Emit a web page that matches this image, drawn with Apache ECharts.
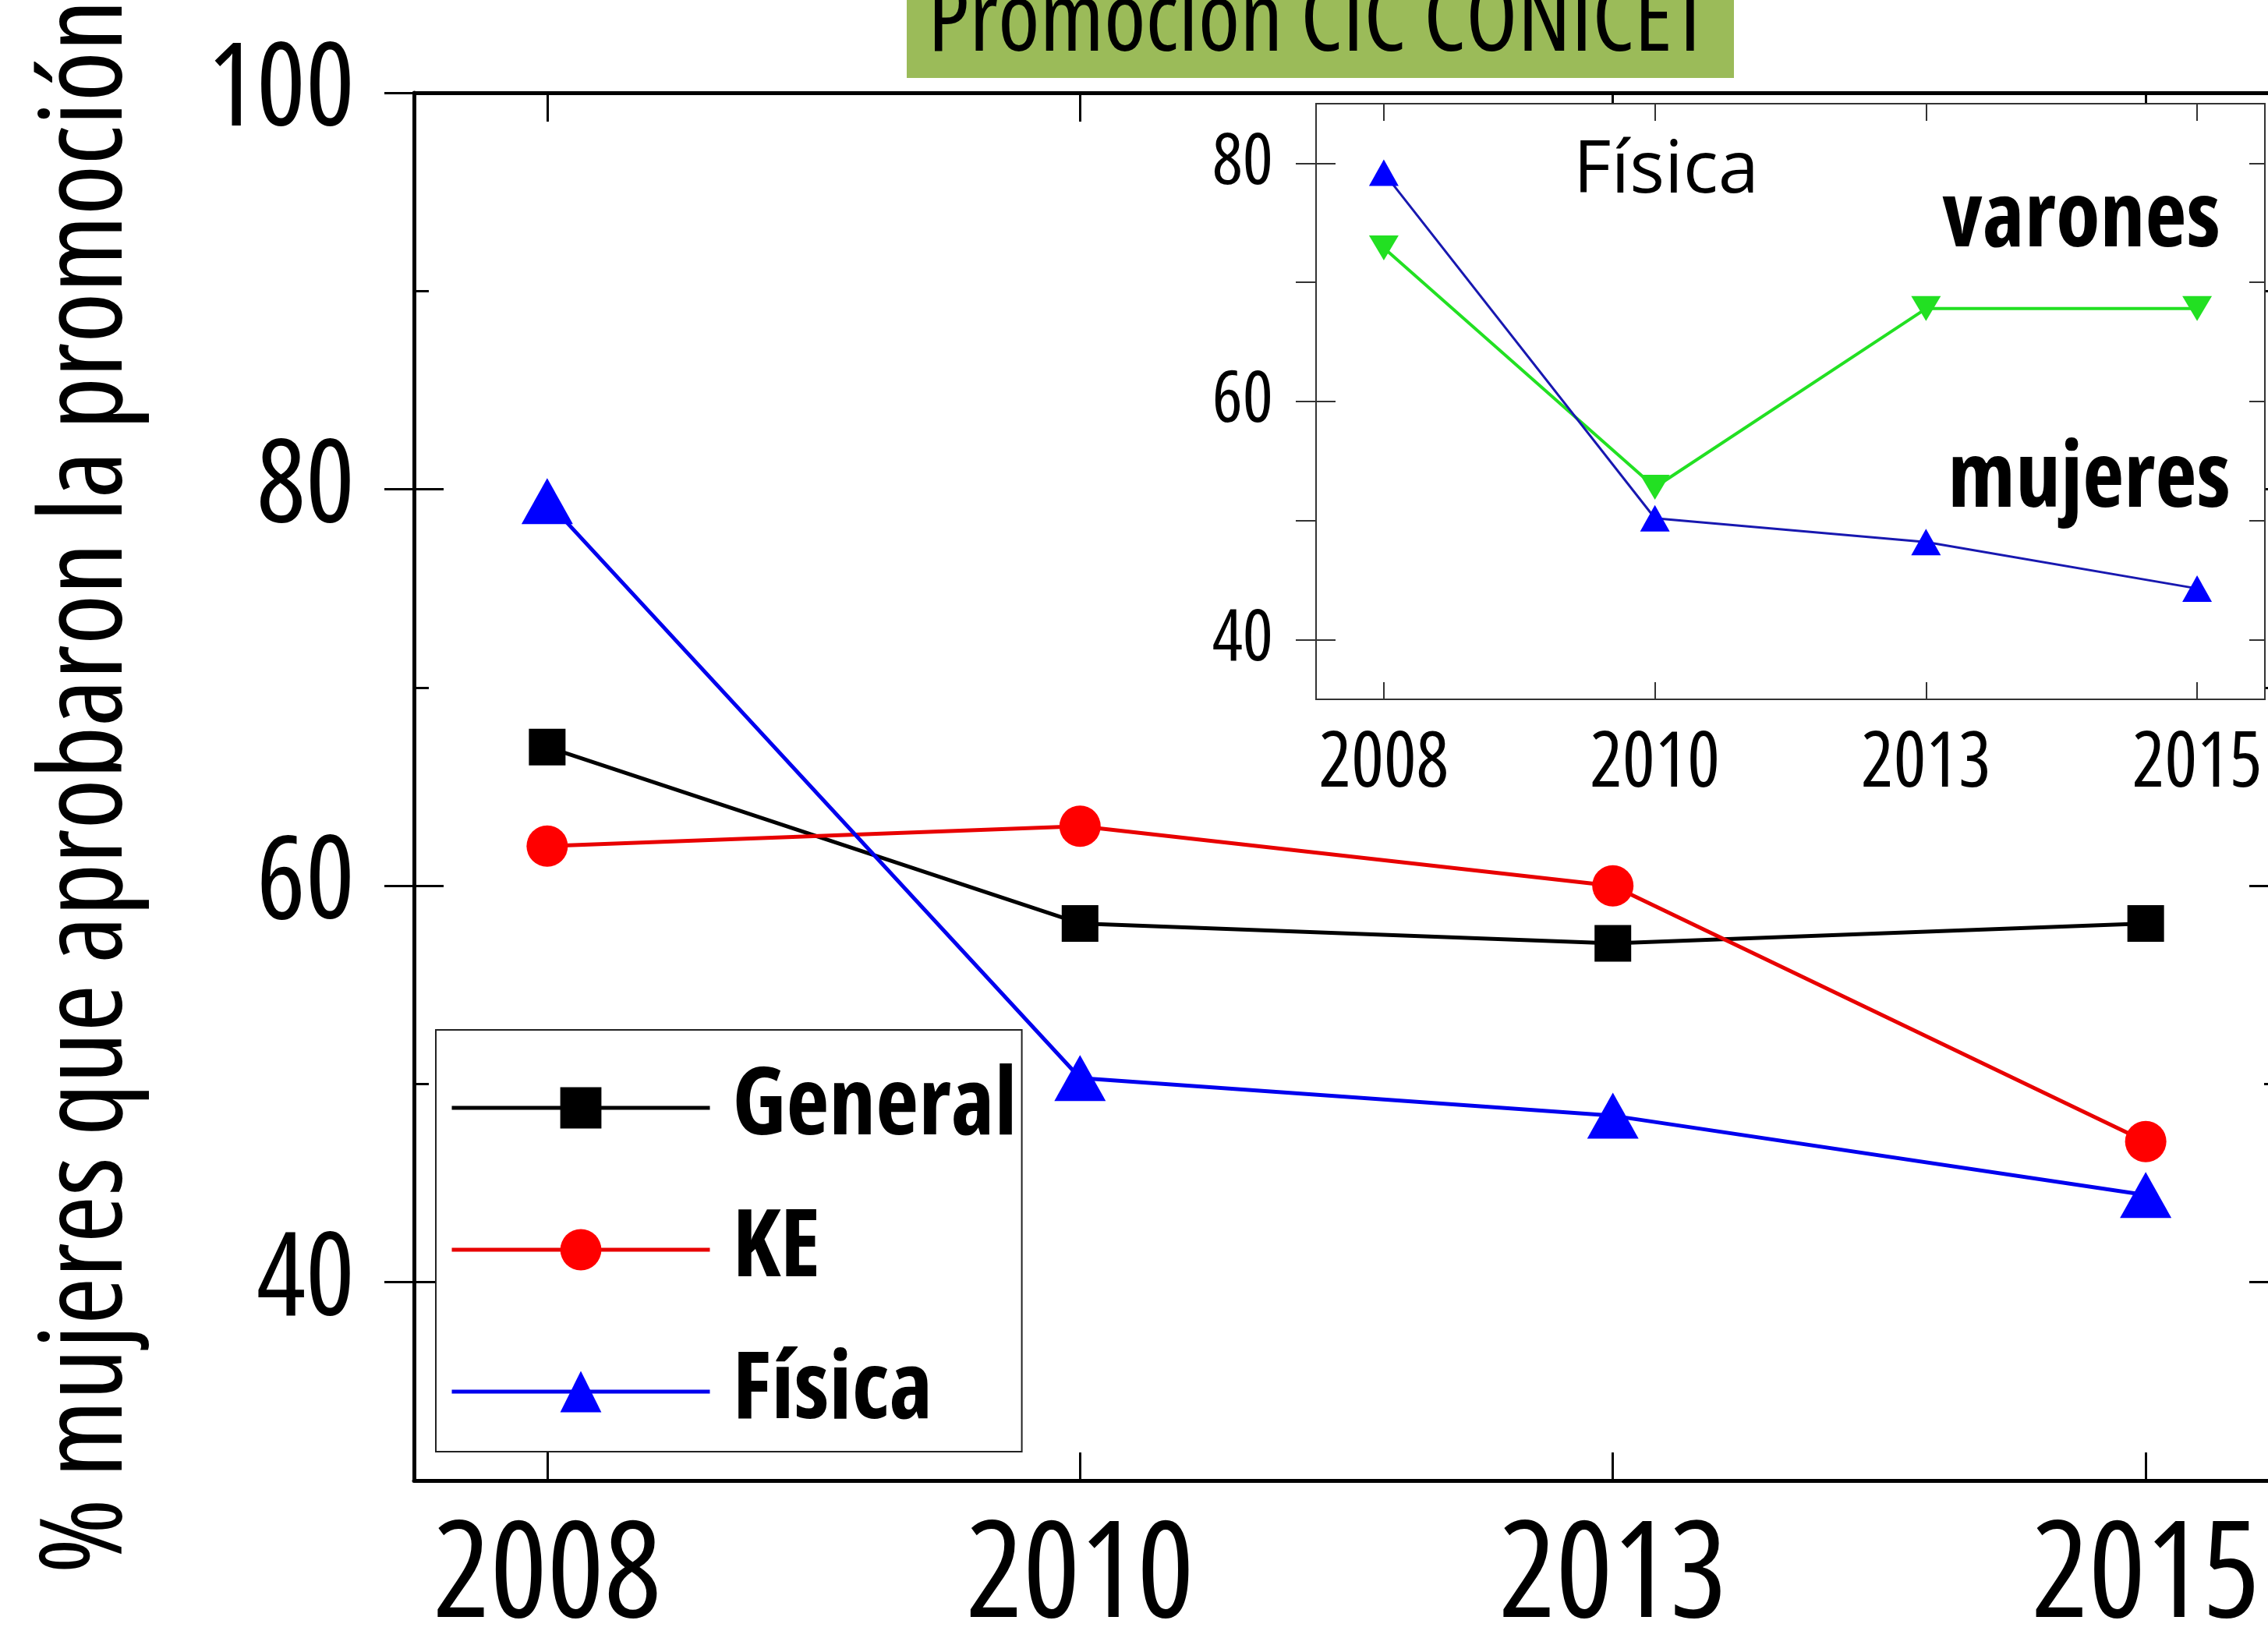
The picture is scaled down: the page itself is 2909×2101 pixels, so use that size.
<!DOCTYPE html>
<html>
<head>
<meta charset="utf-8">
<title>Promocion CIC CONICET</title>
<script src="https://cdn.jsdelivr.net/npm/echarts@6/dist/echarts.min.js"></script>
<style>
  html, body { margin: 0; padding: 0; background: #fff; }
  #chart { width: 2909px; height: 2101px; }
</style>
</head>
<body>
<div id="chart"></div>
<script>
// datos
var years = ["2008", "2010", "2013", "2015"];
var general = [67.0, 58.1, 57.1, 58.1];
var ke = [62.0, 63.0, 60.0, 47.1];
var fisica = [79.4, 50.3, 48.4, 44.4];
// inset Fisica
var fisVarones = [72.9, 52.8, 67.8, 67.8];
var fisMujeres = [79.2, 50.2, 48.2, 44.3];
var mainTicks = [40, 60, 80, 100];
var insetTicks = [40, 60, 80];

// Open Sans es variable: "condensed" en el peso la angosta (font-stretch)
var FONT = "'Open Sans', 'Roboto', sans-serif";
var COND = "normal condensed";
var COND_B = "bold condensed";
var yearIdx = years.map(function (y, i) { return i; });

function toXY(vals) {
  return vals.map(function (v, i) { return [i, v]; });
}
function yearLabel(v) {
  return years[Math.round(v)];
}
function noSplit() {
  return { show: false };
}

var chartDom = document.getElementById("chart");
var myChart = echarts.init(chartDom);

var option = {
  animation: false,
  backgroundColor: "#fff",
  grid: [
    { left: 531, top: 119, width: 2392, height: 1780, containLabel: false, outerBoundsMode: "none" },
    {
      left: 1688, top: 133, width: 1217, height: 764, outerBoundsMode: "none",
      show: true, backgroundColor: "#fff", borderColor: "#333", borderWidth: 2, z: 5
    }
  ],
  legend: {
    data: ["General", "KE", "Física"],
    orient: "vertical",
    left: 559,
    top: 1321,
    padding: [40, 6, 17, 18],
    itemWidth: 331,
    itemHeight: 66,
    itemGap: 62,
    selectedMode: false,
    borderColor: "#222",
    borderWidth: 2,
    backgroundColor: "#fff",
    lineStyle: { width: 5 },
    textStyle: {
      fontFamily: FONT,
      fontWeight: COND_B,
      fontSize: 120,
      color: "#000",
      padding: [0, 0, 0, 24]
    }
  },
  xAxis: [
    {
      gridIndex: 0, type: "value", position: "bottom", min: -0.25, max: 3.25,
      axisLine: { onZero: false, lineStyle: { color: "#000", width: 5 } },
      axisTick: { inside: true, length: 36, customValues: yearIdx, lineStyle: { color: "#000", width: 3 } },
      axisLabel: {
        customValues: yearIdx, formatter: yearLabel, margin: 40,
        fontFamily: FONT, fontWeight: COND, fontSize: 172, color: "#000"
      },
      splitLine: noSplit()
    },
    {
      gridIndex: 0, type: "value", position: "top", min: -0.25, max: 3.25,
      axisLine: { onZero: false, lineStyle: { color: "#000", width: 5 } },
      axisTick: { inside: true, length: 37, customValues: yearIdx, lineStyle: { color: "#000", width: 3 } },
      axisLabel: { show: false },
      splitLine: noSplit()
    },
    {
      gridIndex: 1, type: "value", position: "bottom", min: -0.25, max: 3.25, z: 6,
      axisLine: { onZero: false, lineStyle: { color: "#333", width: 2 } },
      axisTick: { inside: true, length: 22, customValues: yearIdx, lineStyle: { color: "#333", width: 2 } },
      axisLabel: {
        customValues: yearIdx, formatter: yearLabel, margin: 35,
        fontFamily: FONT, fontWeight: COND, fontSize: 98, color: "#000"
      },
      splitLine: noSplit()
    },
    {
      gridIndex: 1, type: "value", position: "top", min: -0.25, max: 3.25, z: 6,
      axisLine: { onZero: false, lineStyle: { color: "#333", width: 2 } },
      axisTick: { inside: true, length: 22, customValues: yearIdx, lineStyle: { color: "#333", width: 2 } },
      axisLabel: { show: false },
      splitLine: noSplit()
    }
  ],
  yAxis: [
    {
      // eje principal con etiquetas y titulo
      gridIndex: 0, type: "value", position: "left", min: 30, max: 100,
      name: "% mujeres que aprobaron la promoción",
      nameLocation: "middle", nameRotate: 90, nameGap: 343,
      nameTextStyle: { fontFamily: FONT, fontWeight: COND, fontSize: 147, color: "#000" },
      axisLine: { show: true, onZero: false, lineStyle: { color: "#000", width: 5 } },
      axisTick: { inside: true, length: 19, customValues: [50, 70, 90], lineStyle: { color: "#000", width: 3 } },
      axisLabel: {
        customValues: mainTicks, margin: 76,
        fontFamily: FONT, fontWeight: COND, fontSize: 148, color: "#000"
      },
      splitLine: noSplit()
    },
    {
      gridIndex: 0, type: "value", position: "left", min: 30, max: 100,
      axisLine: { show: false, onZero: false },
      axisTick: { inside: false, length: 38, customValues: mainTicks, lineStyle: { color: "#000", width: 3 } },
      axisLabel: { show: false },
      splitLine: noSplit()
    },
    {
      gridIndex: 0, type: "value", position: "left", min: 30, max: 100,
      axisLine: { show: false, onZero: false },
      axisTick: { inside: true, length: 38, customValues: [40, 60, 80], lineStyle: { color: "#000", width: 3 } },
      axisLabel: { show: false },
      splitLine: noSplit()
    },
    {
      gridIndex: 0, type: "value", position: "right", min: 30, max: 100,
      axisLine: { show: true, onZero: false, lineStyle: { color: "#000", width: 5 } },
      axisTick: { inside: true, length: 38, customValues: [40, 60, 80], lineStyle: { color: "#000", width: 3 } },
      axisLabel: { show: false },
      splitLine: noSplit()
    },
    {
      gridIndex: 0, type: "value", position: "right", min: 30, max: 100,
      axisLine: { show: false, onZero: false },
      axisTick: { inside: true, length: 19, customValues: [50, 70, 90], lineStyle: { color: "#000", width: 3 } },
      axisLabel: { show: false },
      splitLine: noSplit()
    },
    {
      // inset
      gridIndex: 1, type: "value", position: "left", min: 35, max: 85, z: 6,
      axisLine: { show: true, onZero: false, lineStyle: { color: "#333", width: 2 } },
      axisTick: { inside: false, length: 26, customValues: [40, 50, 60, 70, 80], lineStyle: { color: "#333", width: 2 } },
      axisLabel: {
        customValues: insetTicks, margin: 55,
        fontFamily: FONT, fontWeight: COND, fontSize: 92, color: "#000"
      },
      splitLine: noSplit()
    },
    {
      gridIndex: 1, type: "value", position: "left", min: 35, max: 85, z: 6,
      axisLine: { show: false, onZero: false },
      axisTick: { inside: true, length: 25, customValues: insetTicks, lineStyle: { color: "#333", width: 2 } },
      axisLabel: { show: false },
      splitLine: noSplit()
    },
    {
      gridIndex: 1, type: "value", position: "right", min: 35, max: 85, z: 6,
      axisLine: { show: true, onZero: false, lineStyle: { color: "#333", width: 2 } },
      axisTick: { inside: true, length: 20, customValues: [40, 50, 60, 70, 80], lineStyle: { color: "#333", width: 2 } },
      axisLabel: { show: false },
      splitLine: noSplit()
    }
  ],
  series: [
    {
      name: "General", type: "line", xAxisIndex: 0, yAxisIndex: 0,
      data: toXY(general),
      symbol: "rect", symbolSize: 47,
      itemStyle: { color: "#000" },
      lineStyle: { color: "#000", width: 5 }
    },
    {
      name: "KE", type: "line", xAxisIndex: 0, yAxisIndex: 0,
      data: toXY(ke),
      symbol: "circle", symbolSize: 53,
      itemStyle: { color: "#ff0000" },
      lineStyle: { color: "#e80000", width: 5 }
    },
    {
      name: "Física", type: "line", xAxisIndex: 0, yAxisIndex: 0,
      data: toXY(fisica),
      symbol: "triangle", symbolSize: [66, 59],
      itemStyle: { color: "#0000ff" },
      lineStyle: { color: "#0000ee", width: 5 }
    },
    {
      name: "varones", type: "line", xAxisIndex: 2, yAxisIndex: 5, z: 7,
      data: toXY(fisVarones),
      symbol: "triangle", symbolRotate: 180, symbolSize: [38, 32],
      itemStyle: { color: "#22e022" },
      lineStyle: { color: "#22e022", width: 4 }
    },
    {
      name: "mujeres", type: "line", xAxisIndex: 2, yAxisIndex: 5, z: 7,
      data: toXY(fisMujeres),
      symbol: "triangle", symbolSize: [38, 34],
      itemStyle: { color: "#0000ff" },
      lineStyle: { color: "#1818b0", width: 3 }
    }
  ],
  graphic: [
    {
      type: "rect", z: 10,
      shape: { x: 1163, y: -20, width: 1061, height: 120 },
      style: { fill: "#9BBB59" }
    },
    {
      type: "text", z: 11, x: 1190, y: 30,
      style: {
        text: "Promocion CIC CONICET", fill: "#000",
        font: "normal condensed 122px 'Open Sans', sans-serif",
        textAlign: "left", textVerticalAlign: "middle"
      }
    },
    {
      type: "text", z: 11, x: 2018, y: 220,
      style: {
        text: "Física", fill: "#000",
        font: "94px 'Open Sans', sans-serif",
        textAlign: "left", textVerticalAlign: "middle"
      }
    },
    {
      type: "text", z: 11, x: 2848, y: 283,
      style: {
        text: "varones", fill: "#000",
        font: "bold condensed 116px " + FONT,
        textAlign: "right", textVerticalAlign: "middle"
      }
    },
    {
      type: "text", z: 11, x: 2861, y: 617,
      style: {
        text: "mujeres", fill: "#000",
        font: "bold condensed 116px " + FONT,
        textAlign: "right", textVerticalAlign: "middle"
      }
    }
  ]
};

option && myChart.setOption(option);
</script>
</body>
</html>
